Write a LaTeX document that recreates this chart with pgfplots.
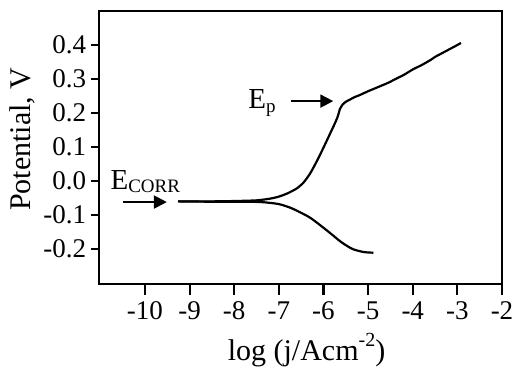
\documentclass[border=0pt]{standalone}
\usepackage{fontspec}
\setmainfont{Liberation Serif}
\usepackage{pgfplots}
\pgfplotsset{compat=1.18}
\usetikzlibrary{arrows.meta}
\begin{document}
\begin{tikzpicture}
\begin{axis}[
  scale only axis,
  width=201.5pt, height=136.5pt,
  xmin=-11.03, xmax=-2,
  ymin=-0.303, ymax=0.5,
  xtick={-10,-9,-8,-7,-6,-5,-4,-3,-2},
  xticklabels={-10,-9,-8,-7,-6,-5,-4,-3,-2},
  ytick={-0.2,-0.1,0,0.1,0.2,0.3,0.4},
  yticklabels={-0.2,-0.1,0.0,0.1,0.2,0.3,0.4},
  xtick pos=lower, ytick pos=left,
  tick align=outside,
  xtick style={line width=1.1pt, black},
  ytick style={line width=1.1pt, black},
  x tick style={/pgfplots/major tick length=5.5pt},
  y tick style={/pgfplots/major tick length=4pt},
  axis line style={line width=1.3pt},
  tick label style={font=\fontsize{13.5}{15}\selectfont},
  xticklabel style={inner sep=2pt, yshift=-2.5pt},
  yticklabel style={inner sep=2pt},
  xlabel={log (j/Acm\raisebox{0.45em}{\fontsize{10}{12}\selectfont -2})},
  ylabel={Potential, V},
  label style={font=\fontsize{15}{17}\selectfont},
  xlabel style={at={(axis description cs:0.515,-0.242)}, anchor=center},
  ylabel style={at={(axis description cs:-0.191,0.53)}, anchor=center},
  clip=false,
]
\addplot[black, line width=1.1pt, smooth, tension=0.4] coordinates {
(-9.26,-0.060) (-9.0,-0.060) (-8.5,-0.060) (-8.0,-0.059) (-7.5,-0.057)
(-7.2,-0.052) (-7.0,-0.046) (-6.8,-0.036) (-6.6,-0.022) (-6.45,-0.005)
(-6.3,0.022) (-6.15,0.058) (-6.0,0.098) (-5.85,0.14) (-5.75,0.168)
(-5.68,0.19) (-5.63,0.212) (-5.57,0.225) (-5.5,0.233) (-5.4,0.240)
(-5.3,0.247) (-5.2,0.252) (-5.0,0.264) (-4.8,0.275) (-4.6,0.286)
(-4.5,0.292) (-4.4,0.299) (-4.2,0.312) (-4.0,0.328) (-3.8,0.341)
(-3.6,0.356) (-3.5,0.365) (-3.4,0.372) (-3.2,0.386) (-3.0,0.400) (-2.92,0.406)
};
\addplot[black, line width=1.1pt, smooth, tension=0.4] coordinates {
(-9.26,-0.060) (-8.5,-0.061) (-8.0,-0.061) (-7.4,-0.062) (-7.0,-0.068)
(-6.7,-0.081) (-6.3,-0.108) (-5.9,-0.148) (-5.6,-0.180) (-5.35,-0.200)
(-5.1,-0.209) (-4.88,-0.211)
};
\draw[line width=1pt, -{Triangle[length=6.5pt, width=6.5pt]}] (axis cs:-10.49,-0.062) -- (axis cs:-9.51,-0.062);
\draw[line width=1pt, -{Triangle[length=6.5pt, width=6.5pt]}] (axis cs:-6.73,0.235) -- (axis cs:-5.78,0.235);
\node[anchor=base west, inner sep=0pt, font=\fontsize{14.5}{16}\selectfont] at (axis cs:-10.78,-0.024) {E\raisebox{-0.12em}{\fontsize{9.5}{11}\selectfont CORR}};
\node[anchor=base west, inner sep=0pt, font=\fontsize{14.5}{16}\selectfont] at (axis cs:-7.69,0.212) {E\raisebox{-0.12em}{\fontsize{9.5}{11}\selectfont p}};
\coordinate (bbl) at (rel axis cs:-0.2457,-0.326);
\coordinate (btr) at (rel axis cs:1.0273,1.0403);
\end{axis}
\pgfresetboundingbox
\path[use as bounding box] (bbl) rectangle (btr);
\end{tikzpicture}
\end{document}
